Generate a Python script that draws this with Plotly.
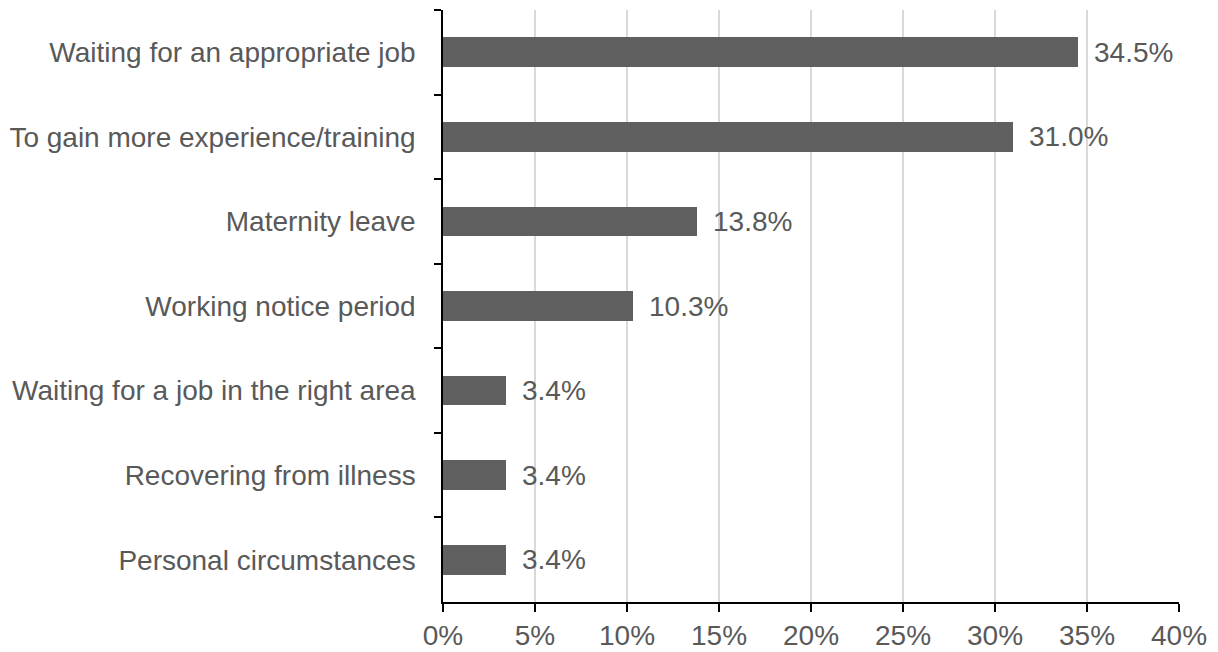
import plotly.graph_objects as go

categories = [
    "Waiting for an appropriate job",
    "To gain more experience/training",
    "Maternity leave",
    "Working notice period",
    "Waiting for a job in the right area",
    "Recovering from illness",
    "Personal circumstances",
]
values = [34.5, 31.0, 13.8, 10.3, 3.4, 3.4, 3.4]
x_ticks = [0, 5, 10, 15, 20, 25, 30, 35, 40]
x_tick_labels = [f"{t}%" for t in x_ticks]

TEXT = "#595959"
BAR = "#5f5f5f"
FONT = "Liberation Sans, Arial, sans-serif"
SIZE = 28

fig = go.Figure(
    go.Bar(
        x=values,
        y=categories,
        orientation="h",
        width=0.35,
        marker=dict(color=BAR, line=dict(width=0)),
        hoverinfo="skip",
    )
)

for cat, v in zip(categories, values):
    fig.add_annotation(
        x=v, y=cat, text=f"{v:.1f}%", showarrow=False,
        xanchor="left", yanchor="middle", xshift=14,
        font=dict(family=FONT, size=SIZE, color=TEXT),
    )

fig.update_layout(
    width=1218, height=652,
    margin=dict(l=443, r=39, t=10, b=50),
    plot_bgcolor="white", paper_bgcolor="white",
    showlegend=False,
    font=dict(family=FONT, size=SIZE, color=TEXT),
    bargap=0,
)
fig.update_xaxes(
    range=[0, 40], tickvals=x_ticks, ticktext=x_tick_labels,
    automargin=False,
    showgrid=True, gridcolor="#d9d9d9", gridwidth=1.5,
    zeroline=False, showline=True, linecolor="black", linewidth=1.5,
    ticks="outside", ticklen=8, tickcolor="black", tickwidth=1.5,
    tickfont=dict(family=FONT, size=SIZE, color=TEXT),
)
fig.update_yaxes(
    categoryorder="array", categoryarray=categories, autorange="reversed",
    automargin=False,
    showgrid=False, zeroline=False, showline=True, linecolor="black", linewidth=1.5,
    ticks="outside", ticklen=7, tickcolor="black", tickwidth=1.5,
    tickson="boundaries", ticklabelstandoff=20,
    tickfont=dict(family=FONT, size=SIZE, color=TEXT),
)

fig.write_html("out.html")
